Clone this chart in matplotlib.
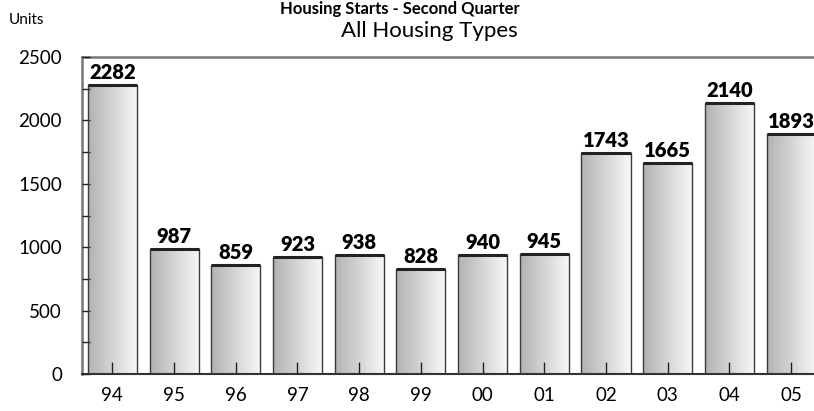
import numpy as np
import matplotlib
matplotlib.use("Agg")
import matplotlib.pyplot as plt
from matplotlib.ticker import MultipleLocator

years = ["94", "95", "96", "97", "98", "99", "00", "01", "02", "03", "04", "05"]
units = [2282, 987, 859, 923, 938, 828, 940, 945, 1743, 1665, 2140, 1893]
yticks = [0, 500, 1000, 1500, 2000, 2500]

plt.rcParams['font.family'] = ['Lato', 'DejaVu Sans']

W, H = 814, 411
fig = plt.figure(figsize=(W/100, H/100), dpi=100)
left, right, top, bottom = 81.5, 822, 57, 374
ax = fig.add_axes([left/W, 1 - bottom/H, (right - left)/W, (bottom - top)/H])

x = np.arange(len(years))
width = 0.795
grad = np.linspace(0.70, 0.97, 64).reshape(1, -1)
for xi, v in zip(x, units):
    ax.imshow(grad, cmap='gray', vmin=0, vmax=1, aspect='auto',
              extent=(xi - width/2, xi + width/2, 0, v), zorder=2,
              interpolation='bilinear')
ax.bar(x, units, width=width, facecolor='none', edgecolor='#3a3a3a',
       linewidth=1.0, zorder=3)
ax.hlines(units, x - width/2, x + width/2, colors='#222222', linewidths=2.2, zorder=4)
for xi, v in zip(x, units):
    ax.text(xi, v + 22, str(v), ha='center', va='bottom', fontsize=14.5,
            fontweight='heavy', color='black', zorder=5)

ax.set_xlim(-0.5, len(years) - 0.5)
ax.set_ylim(0, 2500)
ax.set_xticks(x)
ax.set_xticklabels(years, fontsize=13.5)
ax.set_yticks(yticks)
ax.set_yticklabels([str(t) for t in yticks], fontsize=13.5)
ax.yaxis.set_minor_locator(MultipleLocator(250))
ax.tick_params(axis='x', direction='in', length=8.5, width=1, color='#222222', pad=9)
ax.tick_params(axis='y', which='both', direction='in', length=5.5, width=1,
               color='#222222', pad=14)
for t in ax.get_xticklines():
    t.set_zorder(6)
ax.set_axisbelow(False)
for s in ['left', 'top', 'right']:
    ax.spines[s].set_color('#777777')
    ax.spines[s].set_linewidth(1.8)
ax.spines['bottom'].set_color('#333333')
ax.spines['bottom'].set_linewidth(1.5)

fig.text(26/W, 1 - 20/H, "Units", ha='center', va='center', fontsize=11)
fig.text(429/W, 1 - 31/H, "All Housing Types", ha='center', va='center', fontsize=16)
fig.text(400/W, 1 - 1/H, "Housing Starts - Second Quarter", ha='center', va='top',
         fontsize=12, fontweight='bold')

fig.savefig("out.png", dpi=100)
